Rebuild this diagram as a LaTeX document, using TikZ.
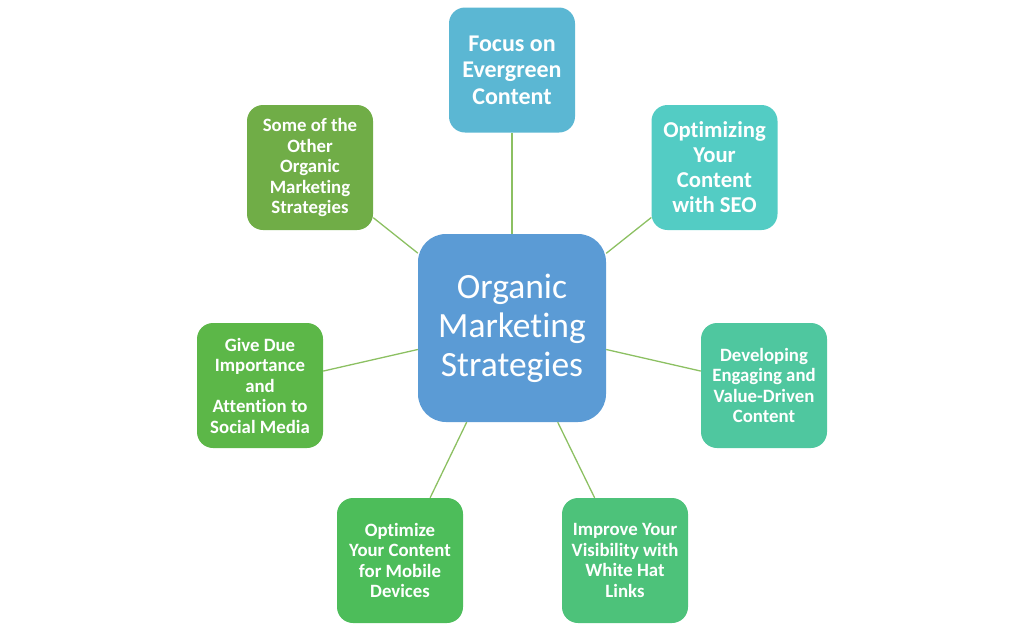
\documentclass[tikz,border=0pt]{standalone}
\usepackage{fontspec}
\setmainfont{Carlito}[Ligatures=NoCommon]
\usepackage{xcolor}

\definecolor{azulcentro}{HTML}{5B9BD5}
\definecolor{hoja1}{HTML}{5BB7D3}
\definecolor{hoja2}{HTML}{53CCC4}
\definecolor{hoja3}{HTML}{4FC79F}
\definecolor{hoja4}{HTML}{4DC27A}
\definecolor{hoja5}{HTML}{4DBD5A}
\definecolor{hoja6}{HTML}{5CB748}
\definecolor{hoja7}{HTML}{70AD47}
\definecolor{enlace}{HTML}{8CC062}

\begin{document}
\begin{tikzpicture}[x=1pt,y=-1pt,
        nucleo/.style={rectangle,rounded corners=28pt,fill=azulcentro,text=white,minimum width=188pt,minimum height=188pt,align=center,font=\fontsize{35.5}{39}\selectfont},
        rama/.style={rectangle,rounded corners=16pt,text=white,minimum width=126pt,minimum height=125pt,align=center,inner sep=1pt,font=\bfseries\fontsize{18.8}{20.5}\selectfont},
        enlaces/.style={draw=enlace,line width=1.3pt}  ]
    \useasboundingbox (0,0) rectangle (1024,632);
    \node[nucleo] (centro) at (512,328) {Organic\\Marketing\\Strategies};
    \node[rama,fill=hoja1,font=\bfseries\fontsize{24}{26.5}\selectfont] (evergreen) at (512,70) {Focus on\\Evergreen\\Content};
    \node[rama,fill=hoja2,font=\bfseries\fontsize{22.7}{25}\selectfont] (seo) at (714.5,167.5) {Optimizing\\Your\\Content\\with SEO};
    \node[rama,fill=hoja3] (valor) at (764,385.5) {Developing\\Engaging and\\Value-Driven\\Content};
    \node[rama,fill=hoja4] (enlaces) at (625,560.5) {Improve Your\\Visibility with\\White Hat\\Links};
    \node[rama,fill=hoja5] (movil) at (400,560.5) {Optimize\\Your Content\\for Mobile\\Devices};
    \node[rama,fill=hoja6] (social) at (260,385.5) {Give Due\\Importance\\and\\Attention to\\Social Media};
    \node[rama,fill=hoja7] (otras) at (310,167.5) {Some of the\\Other\\Organic\\Marketing\\Strategies};
    % conectores
    \foreach \hoja in {evergreen,seo,valor,enlaces,movil,social,otras}
        \draw[enlaces] (centro) -- (\hoja);
\end{tikzpicture}
\end{document}
